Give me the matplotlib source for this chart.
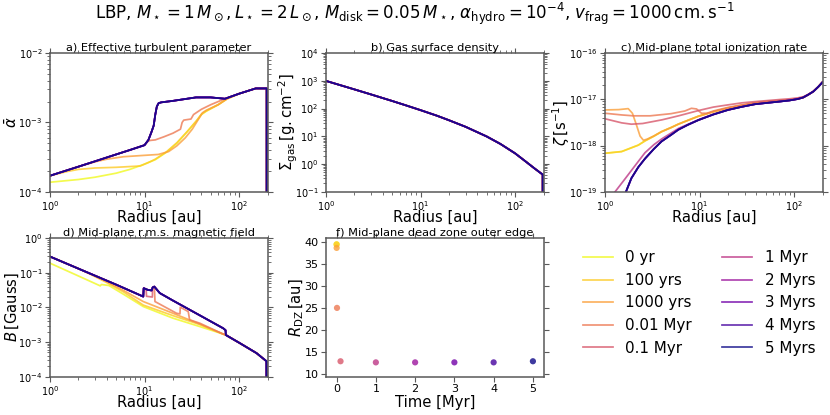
import numpy as np
import matplotlib
matplotlib.use("Agg")
import matplotlib.pyplot as plt


TIME_LABELS = ["0 yr", "100 yrs", "1000 yrs", "0.01 Myr", "0.1 Myr",
               "1 Myr", "2 Myrs", "3 Myrs", "4 Myrs", "5 Myrs"]
TIME_MYR = [0.0, 1e-4, 1e-3, 0.01, 0.1, 1.0, 2.0, 3.0, 4.0, 5.0]
R_DZ = [39.4, 39.4, 38.6, 25.0, 12.9, 12.65, 12.65, 12.65, 12.65, 12.9]

# a) effective turbulent parameter
ALF_R_0YR = [1, 2, 3, 5, 7, 10, 13, 17, 22, 28, 35, 40, 45, 60, 75, 100, 150, 196, 196]
ALF_0YR = [1.37e-4, 1.5e-4, 1.62e-4, 1.85e-4, 2.1e-4, 2.5e-4, 2.9e-4, 3.7e-4, 5.0e-4,
           7.2e-4, 1.02e-3, 1.3e-3, 1.45e-3, 1.8e-3, 2.2e-3, 2.6e-3, 3.1e-3, 3.1e-3, 1e-6]
ALF_R_100YR = [1, 1.5, 2, 3, 5, 9, 11.4, 13, 17, 22, 28, 35, 40, 45, 60, 75, 100, 150, 196, 196]
ALF_100YR = [1.7e-4, 1.95e-4, 2.1e-4, 2.2e-4, 2.25e-4, 2.35e-4, 2.7e-4, 2.95e-4, 3.75e-4, 5.1e-4,
             7.3e-4, 1.04e-3, 1.32e-3, 1.47e-3, 1.8e-3, 2.2e-3, 2.6e-3, 3.1e-3, 3.1e-3, 1e-6]
ALF_R_1KYR = [1, 2, 3, 4, 6, 10, 14, 18, 22, 27, 32, 37, 41, 45, 60, 75, 100, 150, 196, 196]
ALF_1KYR = [1.7e-4, 2.3e-4, 2.7e-4, 2.95e-4, 3.2e-4, 3.35e-4, 3.45e-4, 3.8e-4, 4.6e-4, 6.0e-4,
            8.0e-4, 1.1e-3, 1.38e-3, 1.5e-3, 1.8e-3, 2.2e-3, 2.6e-3, 3.1e-3, 3.1e-3, 1e-6]
ALF_R_10KYR = [1, 2, 3, 5, 7, 10, 11, 11.5, 13, 16, 20, 24, 25, 26, 31, 33, 40, 50, 71, 100, 150, 196, 196]
ALF_10KYR = [1.7e-4, 2.3e-4, 2.75e-4, 3.45e-4, 4.0e-4, 4.7e-4, 5.4e-4, 5.5e-4, 5.6e-4, 6.2e-4,
             7.0e-4, 8.0e-4, 1.0e-3, 1.08e-3, 1.12e-3, 1.3e-3, 1.55e-3, 1.8e-3, 2.2e-3, 2.6e-3,
             3.1e-3, 3.1e-3, 1e-6]
ALF_R_LATE = [1, 2, 3, 5, 7, 10, 11, 11.9, 12.5, 13, 13.5, 14.1, 15, 20, 35, 50, 71, 100, 150, 196, 196]
ALF_LATE = [1.7e-4, 2.3e-4, 2.75e-4, 3.45e-4, 4.0e-4, 4.7e-4, 5.6e-4, 7.4e-4, 9.0e-4, 1.3e-3,
            1.7e-3, 1.9e-3, 1.95e-3, 2.05e-3, 2.3e-3, 2.3e-3, 2.2e-3, 2.6e-3, 3.1e-3, 3.1e-3, 1e-6]

# b) gas surface density (same at every time)
SIG_R = [1, 2, 3, 5, 7, 10, 15, 20, 30, 50, 70, 100, 130, 160, 190, 196, 196]
SIG = [1000, 493, 324, 189, 131, 88, 55, 38, 22, 9.9, 5.3, 2.43, 1.22, 0.7, 0.45, 0.42, 1e-4]

# c) mid-plane ionization rate
ZETA_R_EARLY = [1, 1.5, 2.25, 2.65, 3.3, 3.97, 5, 5.96, 7.5, 9.7, 14, 20, 28, 38.5, 55, 68,
                90, 110, 125, 141, 160, 180, 200]
ZETA_EARLY = [6.8e-19, 7.4e-19, 1.02e-18, 1.26e-18, 1.6e-18, 2.0e-18, 2.45e-18, 2.9e-18, 3.5e-18,
              4.3e-18, 5.4e-18, 6.5e-18, 7.4e-18, 8.3e-18, 9.0e-18, 9.3e-18, 9.7e-18, 1.03e-17,
              1.1e-17, 1.26e-17, 1.48e-17, 1.86e-17, 2.35e-17]
ZETA_R_1KYR = [1, 1.4, 1.76, 1.95, 2.15, 2.35, 2.55, 2.8, 3.3, 3.97, 5, 5.96, 7.5, 9.7, 14, 20,
               28, 38.5, 55, 68, 90, 110, 125, 141, 160, 180, 200]
ZETA_1KYR = [5.9e-18, 6.0e-18, 6.3e-18, 5.0e-18, 2.8e-18, 1.6e-18, 1.3e-18, 1.38e-18, 1.62e-18,
             2.0e-18, 2.45e-18, 2.9e-18, 3.5e-18, 4.3e-18, 5.4e-18, 6.5e-18, 7.4e-18, 8.3e-18,
             9.0e-18, 9.3e-18, 9.7e-18, 1.03e-17, 1.1e-17, 1.26e-17, 1.48e-17, 1.86e-17, 2.35e-17]
ZETA_R_10KYR = [1, 1.5, 2, 3, 5, 7, 8.2, 9.3, 10.5, 12, 14, 20, 28, 38.5, 55, 68, 90, 110, 125,
                141, 160, 180, 200]
ZETA_10KYR = [5.0e-18, 4.6e-18, 4.4e-18, 4.4e-18, 4.9e-18, 5.6e-18, 6.4e-18, 6.2e-18, 5.0e-18,
              5.0e-18, 5.6e-18, 6.7e-18, 7.6e-18, 8.5e-18, 9.2e-18, 9.4e-18, 9.8e-18, 1.04e-17,
              1.1e-17, 1.26e-17, 1.48e-17, 1.86e-17, 2.35e-17]
ZETA_R_100KYR = [1, 1.5, 1.9, 2.5, 4, 6, 10, 14, 20, 28, 40, 55, 70, 90, 110, 125, 141, 160, 180, 200]
ZETA_100KYR = [3.8e-18, 3.1e-18, 2.9e-18, 3.0e-18, 3.6e-18, 4.4e-18, 5.8e-18, 6.8e-18, 7.6e-18,
               8.4e-18, 9.0e-18, 9.5e-18, 9.9e-18, 1.03e-17, 1.08e-17, 1.14e-17, 1.28e-17,
               1.5e-17, 1.88e-17, 2.4e-17]
ZETA_R_1MYR = [1, 1.28, 1.63, 2, 2.65, 3.3, 4, 6, 10, 14, 20, 28, 38.5, 55, 68, 90, 110, 125,
               141, 160, 180, 200]
ZETA_1MYR = [5e-20, 1.0e-19, 1.9e-19, 3.3e-19, 7.0e-19, 1.05e-18, 1.4e-18, 2.35e-18, 3.7e-18,
             4.8e-18, 5.95e-18, 6.9e-18, 7.85e-18, 8.5e-18, 8.9e-18, 9.5e-18, 1.02e-17, 1.1e-17,
             1.26e-17, 1.48e-17, 1.86e-17, 2.35e-17]
ZETA_R_LATE = [1, 1.3, 1.63, 1.9, 2.25, 2.65, 3.3, 3.97, 5, 5.96, 7.5, 9.7, 14, 20, 28, 38.5,
               55, 68, 90, 110, 125, 141, 160, 180, 200]
ZETA_LATE = [3.2e-21, 2.5e-20, 8.9e-20, 1.95e-19, 3.4e-19, 5.2e-19, 8.5e-19, 1.23e-18, 1.7e-18,
             2.2e-18, 2.8e-18, 3.55e-18, 4.7e-18, 5.9e-18, 6.9e-18, 7.85e-18, 8.5e-18, 8.9e-18,
             9.5e-18, 1.02e-17, 1.1e-17, 1.26e-17, 1.48e-17, 1.86e-17, 2.35e-17]

# d) mid-plane r.m.s. magnetic field
B_R_0YR = [1, 2, 3.4, 3.5, 4.2, 6, 9.7, 20, 38.5, 68, 72.5, 102, 153, 195, 196]
B_0YR = [0.19, 0.081, 0.042, 0.046, 0.043, 0.024, 0.0106, 0.0049, 0.0028, 0.0017, 0.0016,
         0.00093, 0.00048, 0.00028, 1e-6]
B_R_100YR = [1, 2, 2.5, 4, 6, 9.7, 20, 38.5, 68, 72.5, 102, 153, 195, 196]
B_100YR = [0.295, 0.132, 0.1, 0.052, 0.028, 0.0117, 0.0058, 0.0032, 0.0017, 0.0016, 0.00093,
           0.00048, 0.00028, 1e-6]
B_R_1KYR = [1, 2, 3, 4, 6, 9.7, 20, 38.5, 68, 72.5, 102, 153, 195, 196]
B_1KYR = [0.295, 0.132, 0.08, 0.055, 0.031, 0.0148, 0.0068, 0.0033, 0.0017, 0.0016, 0.00093,
          0.00048, 0.00028, 1e-6]
B_R_10KYR = [1, 2, 5, 9.7, 9.8, 10.9, 11.9, 12.2, 12.7, 12.9, 21.8, 23.7, 23.9, 29, 30, 38.5,
             68, 72.5, 102, 153, 195, 196]
B_10KYR = [0.295, 0.132, 0.0457, 0.0206, 0.036, 0.032, 0.031, 0.038, 0.040, 0.0148, 0.0068,
           0.0065, 0.0102, 0.0076, 0.0044, 0.0035, 0.0017, 0.0016, 0.00093, 0.00048, 0.00028, 1e-6]
B_R_100KYR = [1, 2, 5, 9.7, 9.8, 10.4, 10.5, 12.1, 12.2, 12.7, 14.5, 20, 38.5, 68, 72, 72.5,
              102, 153, 195, 196]
B_100KYR = [0.295, 0.132, 0.0457, 0.0206, 0.036, 0.033, 0.021, 0.02, 0.038, 0.040, 0.026, 0.0158,
            0.0059, 0.0025, 0.0022, 0.0016, 0.00093, 0.00048, 0.00028, 1e-6]
B_R_LATE = [1, 2, 5, 9.7, 9.8, 10.9, 11.9, 12.2, 12.7, 14.5, 20, 38.5, 68, 72, 72.5, 102, 153, 195, 196]
B_LATE = [0.295, 0.132, 0.0457, 0.0206, 0.036, 0.032, 0.031, 0.038, 0.040, 0.026, 0.0158, 0.0059,
          0.0025, 0.0022, 0.0016, 0.00093, 0.00048, 0.00028, 1e-6]

LATE_COUNT = 5  # 1 to 5 Myr share the same profiles

ALF_CURVES = [(ALF_R_0YR, ALF_0YR), (ALF_R_100YR, ALF_100YR), (ALF_R_1KYR, ALF_1KYR),
              (ALF_R_10KYR, ALF_10KYR), (ALF_R_LATE, ALF_LATE)] + [(ALF_R_LATE, ALF_LATE)] * LATE_COUNT
SIG_CURVES = [(SIG_R, SIG)] * 10
ZETA_CURVES = [(ZETA_R_EARLY, ZETA_EARLY), (ZETA_R_EARLY, ZETA_EARLY), (ZETA_R_1KYR, ZETA_1KYR),
               (ZETA_R_10KYR, ZETA_10KYR), (ZETA_R_100KYR, ZETA_100KYR), (ZETA_R_1MYR, ZETA_1MYR)] \
    + [(ZETA_R_LATE, ZETA_LATE)] * (LATE_COUNT - 1)
B_CURVES = [(B_R_0YR, B_0YR), (B_R_100YR, B_100YR), (B_R_1KYR, B_1KYR), (B_R_10KYR, B_10KYR),
            (B_R_100KYR, B_100KYR)] + [(B_R_LATE, B_LATE)] * LATE_COUNT

W, H = 830, 415
AX_W, AX_H = 217.5, 138.5
COL_X = [50, 326, 605]
ROW_BOTTOM = [191.7, 376.7]


def make_ax(fig, col, row):
    left = COL_X[col] / W
    bottom = 1 - ROW_BOTTOM[row] / H
    ax = fig.add_axes([left, bottom, AX_W / W, AX_H / H])
    for sp in ax.spines.values():
        sp.set_color("0.35")
        sp.set_linewidth(1.1)
    ax.tick_params(which="both", direction="out", top=True, right=True,
                   labelsize=7, color="0.35", pad=2)
    ax.tick_params(which="major", length=3.5)
    ax.tick_params(which="minor", length=2)
    return ax


def place_labels(ax, ylabel_px, xlabel_px):
    # label centres given in pixels from the axes' left / bottom edge
    ax.yaxis.label.set_va("center")
    ax.xaxis.label.set_va("center")
    ax.yaxis.set_label_coords(ylabel_px / AX_W, 0.5)
    ax.xaxis.set_label_coords(0.5, xlabel_px / AX_H)


def radial_panel(ax, curves, colors, title, ylabel, ylim, ylabel_px):
    for (r, v), c, lab in zip(curves, colors, TIME_LABELS):
        ax.plot(r, v, color=c, lw=1.25, alpha=0.8, label=lab)
    ax.set_xscale("log")
    ax.set_yscale("log")
    ax.set_xlim(1, 200)
    ax.set_ylim(*ylim)
    ax.set_title(title, fontsize=8.2, pad=1)
    ax.set_xlabel("Radius [au]", fontsize=10.6)
    ax.set_ylabel(ylabel, fontsize=10.6)
    place_labels(ax, ylabel_px, -26)


def main():
    colors = plt.cm.plasma(np.linspace(1, 0, len(TIME_LABELS)))
    fig = plt.figure(figsize=(W / 100, H / 100), dpi=100)

    ax_a = make_ax(fig, 0, 0)
    radial_panel(ax_a, ALF_CURVES, colors, "a) Effective turbulent parameter",
                 r"$\bar{\alpha}$", (1e-4, 1e-2), -38)
    ax_b = make_ax(fig, 1, 0)
    radial_panel(ax_b, SIG_CURVES, colors, "b) Gas surface density",
                 r"$\Sigma_{\rm gas}\,[\rm g.cm^{-2}]$", (1e-1, 1e4), -38)
    ax_c = make_ax(fig, 2, 0)
    radial_panel(ax_c, ZETA_CURVES, colors, "c) Mid-plane total ionization rate",
                 r"$\zeta\,[\rm s^{-1}]$", (1e-19, 1e-16), -44)
    ax_d = make_ax(fig, 0, 1)
    radial_panel(ax_d, B_CURVES, colors, "d) Mid-plane r.m.s. magnetic field",
                 r"$B\,[\rm Gauss]$", (1e-4, 1e0), -38)

    ax_f = make_ax(fig, 1, 1)
    ax_f.scatter(TIME_MYR, R_DZ, c=colors, s=20, alpha=0.8, linewidths=0)
    ax_f.set_xlim(-0.27, 5.27)
    ax_f.set_ylim(9.4, 40.8)
    ax_f.set_yticks([10, 15, 20, 25, 30, 35, 40])
    ax_f.set_xticks([0, 1, 2, 3, 4, 5])
    ax_f.tick_params(labelsize=8)
    ax_f.set_title("f) Mid-plane dead zone outer edge", fontsize=8.2, pad=1)
    ax_f.set_xlabel("Time [Myr]", fontsize=10.6)
    ax_f.set_ylabel(r"$R_{\rm DZ}\,[\rm au]$", fontsize=10.6)
    place_labels(ax_f, -29, -26)

    handles, labels = ax_a.get_legend_handles_labels()
    fig.legend(handles, labels, ncol=2, frameon=False, fontsize=10.9,
               loc="center", bbox_to_anchor=(699 / W, 1 - 303 / H))

    fig.suptitle(r"LBP, $M_\star=1\,M_\odot, L_\star=2\,L_\odot$, $M_{\rm disk}=0.05\,M_\star$, "
                 r"$\alpha_{\rm hydro}=10^{-4}$, $v_{\rm frag}=1000\,\rm cm.s^{-1}$",
                 fontsize=12, y=1 - 14 / H, va="center")
    fig.savefig("out.png", dpi=100)


if __name__ == "__main__":
    main()
